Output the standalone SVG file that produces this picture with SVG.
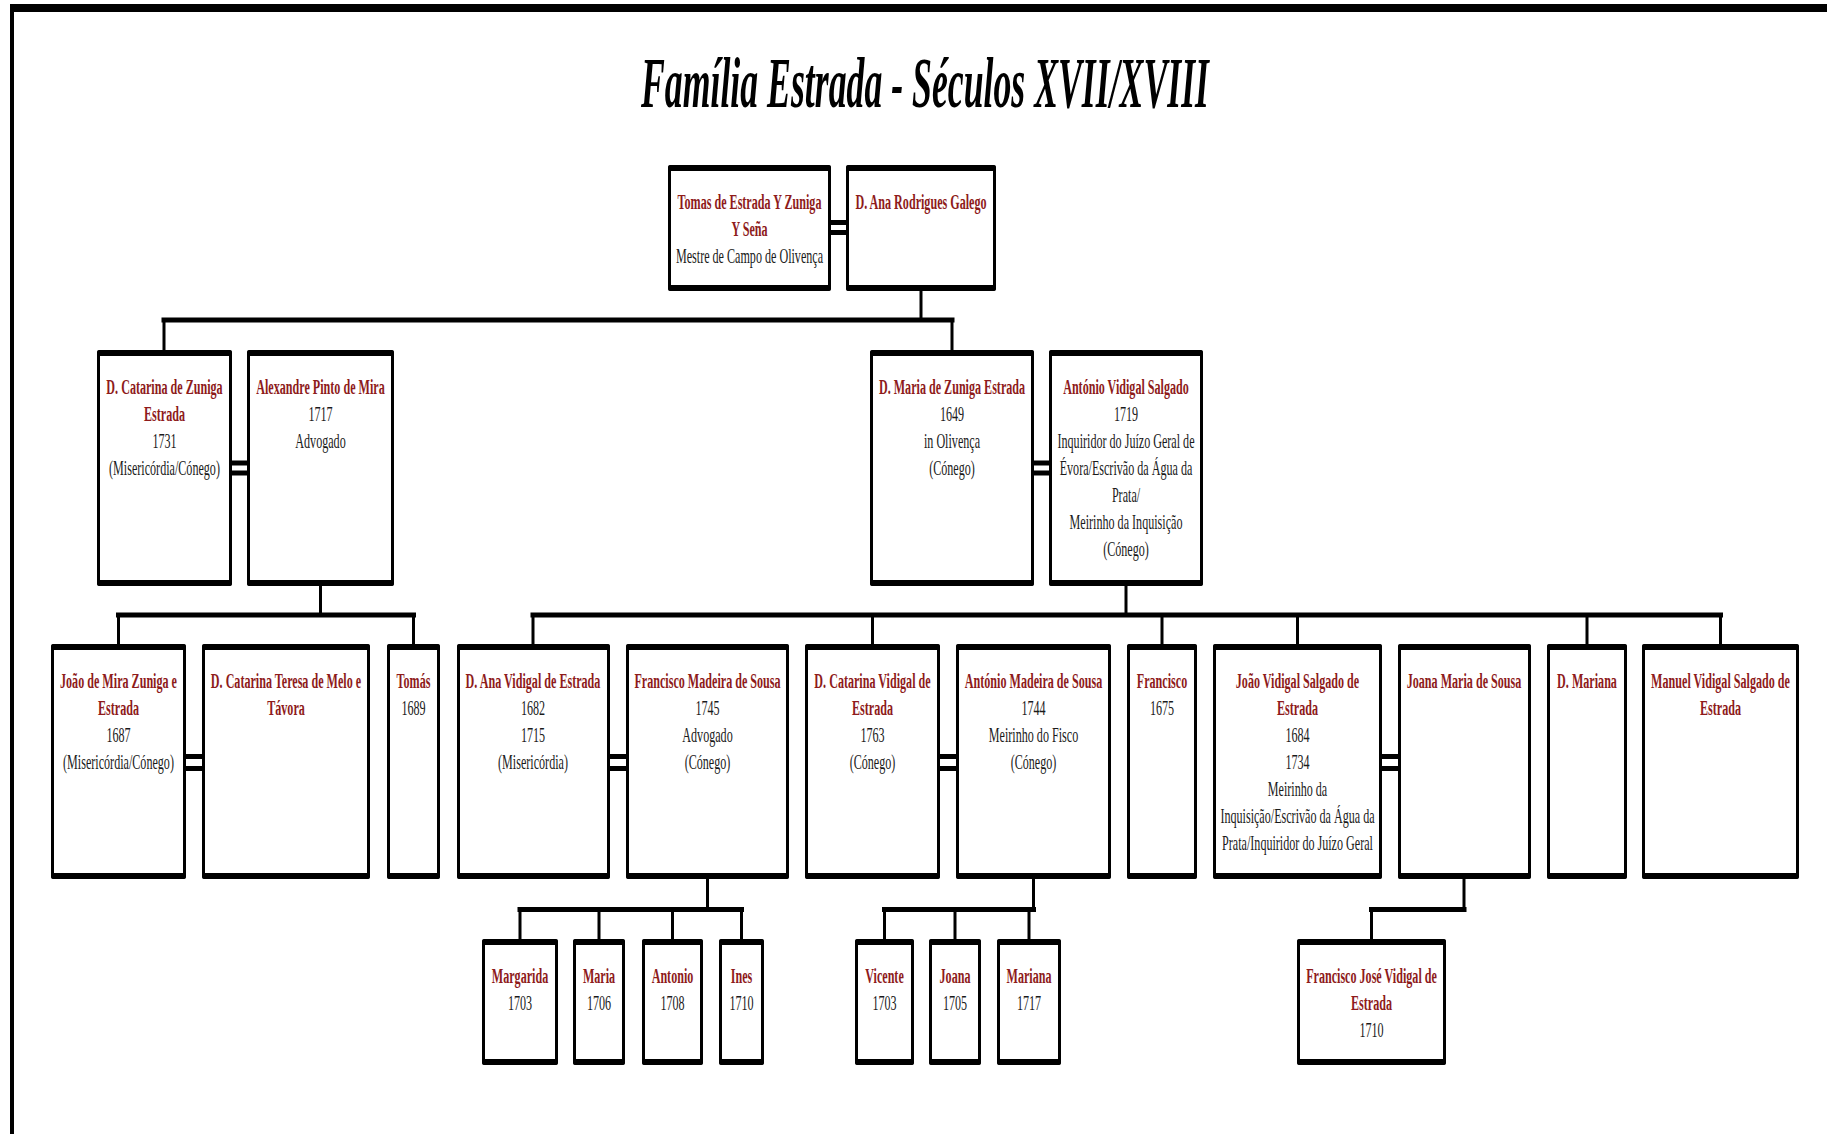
<svg xmlns="http://www.w3.org/2000/svg" width="1827" height="1134" viewBox="0 0 1827 1134">
  <style>
    .frame { fill: #000; }
    .box { fill: #fff; stroke: #000; stroke-width: 3; }
    .edge { fill: #000; }
    .wire { fill: none; stroke: #000; stroke-linecap: square; }
    .v { stroke-width: 3; }
    .h { stroke-width: 5; }
    .wed { fill: #000; }
    text { font-family: "Liberation Serif", "Times New Roman", serif; font-size: 22px; text-anchor: middle; }
    .nm { fill: #8e1b1b; font-weight: bold; }
    .dt { fill: #1a1a1a; }
    .title { font-size: 72px; font-weight: bold; font-style: italic; fill: #000; text-anchor: start; }
  </style>
  <defs>
    <!-- box outline: thin sides, heavy top and bottom edges -->
  </defs>

  <rect width="1827" height="1134" fill="#fff"/>
  <!-- page frame -->
  <rect class="frame" x="10" y="4" width="1817" height="8"/>
  <rect class="frame" x="10" y="4" width="4" height="1130"/>

  <text class="title" x="641" y="107" textLength="568" lengthAdjust="spacingAndGlyphs">Família Estrada - Séculos XVII/XVIII</text>

  <!-- descent lines -->
  <g id="connectors">
    <path class="wire v" d="M921 291V320"/>
    <path class="wire h" d="M164 320H952"/>
    <path class="wire v" d="M164 320V350M952 320V350"/>

    <path class="wire v" d="M320.5 586V615"/>
    <path class="wire h" d="M118.5 615H413.5"/>
    <path class="wire v" d="M118.5 615V644M413.5 615V644"/>

    <path class="wire v" d="M1126 586V615"/>
    <path class="wire h" d="M533 615H1720.5"/>
    <path class="wire v" d="M533 615V644M872.5 615V644M1162 615V644M1297.5 615V644M1587 615V644M1720.5 615V644"/>

    <path class="wire v" d="M707.5 879V909.5"/>
    <path class="wire h" d="M520 909.5H741.5"/>
    <path class="wire v" d="M520 909.5V939M599 909.5V939M672.5 909.5V939M741.5 909.5V939"/>

    <path class="wire v" d="M1033.5 879V909.5"/>
    <path class="wire h" d="M884.5 909.5H1033.5"/>
    <path class="wire v" d="M884.5 909.5V939M955 909.5V939M1029 909.5V939"/>

    <path class="wire v" d="M1464 879V909.5"/>
    <path class="wire h" d="M1464 909.5H1371.5"/>
    <path class="wire v" d="M1371.5 909.5V939"/>

    <!-- marriage links (double bars) -->
    <rect class="wed" x="831" y="220" width="15" height="5"/><rect class="wed" x="831" y="230" width="15" height="5"/>
    <rect class="wed" x="232" y="460.5" width="15" height="5"/><rect class="wed" x="232" y="470.5" width="15" height="5"/>
    <rect class="wed" x="1034" y="460.5" width="15" height="5"/><rect class="wed" x="1034" y="470.5" width="15" height="5"/>
    <rect class="wed" x="186" y="754" width="16" height="5"/><rect class="wed" x="186" y="766" width="16" height="5"/>
    <rect class="wed" x="610" y="754" width="16" height="5"/><rect class="wed" x="610" y="766" width="16" height="5"/>
    <rect class="wed" x="940" y="754" width="16" height="5"/><rect class="wed" x="940" y="766" width="16" height="5"/>
    <rect class="wed" x="1382" y="754" width="16" height="5"/><rect class="wed" x="1382" y="766" width="16" height="5"/>
  </g>

  <!-- generation I -->
  <g id="tomas-estrada">
    <rect class="box" x="669.5" y="166.5" width="160" height="123" rx="2"/>
    <rect class="edge" x="668" y="165" width="163" height="6" rx="2"/><rect class="edge" x="668" y="285" width="163" height="6" rx="2"/>
    <g transform="translate(749.5 0) scale(0.55 1)">
      <text class="nm" y="209">Tomas de Estrada Y Zuniga</text>
      <text class="nm" y="236">Y Seña</text>
      <text class="dt" y="263">Mestre de Campo de Olivença</text>
    </g>
  </g>
  <g id="ana-rodrigues">
    <rect class="box" x="847.5" y="166.5" width="147" height="123" rx="2"/>
    <rect class="edge" x="846" y="165" width="150" height="6" rx="2"/><rect class="edge" x="846" y="285" width="150" height="6" rx="2"/>
    <g transform="translate(921 0) scale(0.55 1)">
      <text class="nm" y="209">D. Ana Rodrigues Galego</text>
    </g>
  </g>

  <!-- generation II -->
  <g id="catarina-zuniga">
    <rect class="box" x="98.5" y="351.5" width="132" height="233" rx="2"/>
    <rect class="edge" x="97" y="350" width="135" height="6" rx="2"/><rect class="edge" x="97" y="580" width="135" height="6" rx="2"/>
    <g transform="translate(164.5 0) scale(0.55 1)">
      <text class="nm" y="394">D. Catarina de Zuniga</text>
      <text class="nm" y="421">Estrada</text>
      <text class="dt" y="448">1731</text>
      <text class="dt" y="475">(Misericórdia/Cónego)</text>
    </g>
  </g>
  <g id="alexandre-mira">
    <rect class="box" x="248.5" y="351.5" width="144" height="233" rx="2"/>
    <rect class="edge" x="247" y="350" width="147" height="6" rx="2"/><rect class="edge" x="247" y="580" width="147" height="6" rx="2"/>
    <g transform="translate(320.5 0) scale(0.55 1)">
      <text class="nm" y="394">Alexandre Pinto de Mira</text>
      <text class="dt" y="421">1717</text>
      <text class="dt" y="448">Advogado</text>
    </g>
  </g>
  <g id="maria-zuniga">
    <rect class="box" x="871.5" y="351.5" width="161" height="233" rx="2"/>
    <rect class="edge" x="870" y="350" width="164" height="6" rx="2"/><rect class="edge" x="870" y="580" width="164" height="6" rx="2"/>
    <g transform="translate(952 0) scale(0.55 1)">
      <text class="nm" y="394">D. Maria de Zuniga Estrada</text>
      <text class="dt" y="421">1649</text>
      <text class="dt" y="448">in Olivença</text>
      <text class="dt" y="475">(Cónego)</text>
    </g>
  </g>
  <g id="antonio-vidigal">
    <rect class="box" x="1050.5" y="351.5" width="151" height="233" rx="2"/>
    <rect class="edge" x="1049" y="350" width="154" height="6" rx="2"/><rect class="edge" x="1049" y="580" width="154" height="6" rx="2"/>
    <g transform="translate(1126 0) scale(0.55 1)">
      <text class="nm" y="394">António Vidigal Salgado</text>
      <text class="dt" y="421">1719</text>
      <text class="dt" y="448">Inquiridor do Juízo Geral de</text>
      <text class="dt" y="475">Évora/Escrivão da Água da</text>
      <text class="dt" y="502">Prata/</text>
      <text class="dt" y="529">Meirinho da Inquisição</text>
      <text class="dt" y="556">(Cónego)</text>
    </g>
  </g>

  <!-- generation III -->
  <g id="joao-mira">
    <rect class="box" x="52.5" y="645.5" width="132" height="232" rx="2"/>
    <rect class="edge" x="51" y="644" width="135" height="6" rx="2"/><rect class="edge" x="51" y="873" width="135" height="6" rx="2"/>
    <g transform="translate(118.5 0) scale(0.55 1)">
      <text class="nm" y="688">João de Mira Zuniga e</text>
      <text class="nm" y="715">Estrada</text>
      <text class="dt" y="742">1687</text>
      <text class="dt" y="769">(Misericórdia/Cónego)</text>
    </g>
  </g>
  <g id="catarina-teresa">
    <rect class="box" x="203.5" y="645.5" width="165" height="232" rx="2"/>
    <rect class="edge" x="202" y="644" width="168" height="6" rx="2"/><rect class="edge" x="202" y="873" width="168" height="6" rx="2"/>
    <g transform="translate(286 0) scale(0.55 1)">
      <text class="nm" y="688">D. Catarina Teresa de Melo e</text>
      <text class="nm" y="715">Távora</text>
    </g>
  </g>
  <g id="tomas-1689">
    <rect class="box" x="388.5" y="645.5" width="50" height="232" rx="2"/>
    <rect class="edge" x="387" y="644" width="53" height="6" rx="2"/><rect class="edge" x="387" y="873" width="53" height="6" rx="2"/>
    <g transform="translate(413.5 0) scale(0.55 1)">
      <text class="nm" y="688">Tomás</text>
      <text class="dt" y="715">1689</text>
    </g>
  </g>
  <g id="ana-vidigal">
    <rect class="box" x="458.5" y="645.5" width="150" height="232" rx="2"/>
    <rect class="edge" x="457" y="644" width="153" height="6" rx="2"/><rect class="edge" x="457" y="873" width="153" height="6" rx="2"/>
    <g transform="translate(533 0) scale(0.55 1)">
      <text class="nm" y="688">D. Ana Vidigal de Estrada</text>
      <text class="dt" y="715">1682</text>
      <text class="dt" y="742">1715</text>
      <text class="dt" y="769">(Misericórdia)</text>
    </g>
  </g>
  <g id="francisco-madeira">
    <rect class="box" x="627.5" y="645.5" width="160" height="232" rx="2"/>
    <rect class="edge" x="626" y="644" width="163" height="6" rx="2"/><rect class="edge" x="626" y="873" width="163" height="6" rx="2"/>
    <g transform="translate(707.5 0) scale(0.55 1)">
      <text class="nm" y="688">Francisco Madeira de Sousa</text>
      <text class="dt" y="715">1745</text>
      <text class="dt" y="742">Advogado</text>
      <text class="dt" y="769">(Cónego)</text>
    </g>
  </g>
  <g id="catarina-vidigal">
    <rect class="box" x="806.5" y="645.5" width="132" height="232" rx="2"/>
    <rect class="edge" x="805" y="644" width="135" height="6" rx="2"/><rect class="edge" x="805" y="873" width="135" height="6" rx="2"/>
    <g transform="translate(872.5 0) scale(0.55 1)">
      <text class="nm" y="688">D. Catarina Vidigal de</text>
      <text class="nm" y="715">Estrada</text>
      <text class="dt" y="742">1763</text>
      <text class="dt" y="769">(Cónego)</text>
    </g>
  </g>
  <g id="antonio-madeira">
    <rect class="box" x="957.5" y="645.5" width="152" height="232" rx="2"/>
    <rect class="edge" x="956" y="644" width="155" height="6" rx="2"/><rect class="edge" x="956" y="873" width="155" height="6" rx="2"/>
    <g transform="translate(1033.5 0) scale(0.55 1)">
      <text class="nm" y="688">António Madeira de Sousa</text>
      <text class="dt" y="715">1744</text>
      <text class="dt" y="742">Meirinho do Fisco</text>
      <text class="dt" y="769">(Cónego)</text>
    </g>
  </g>
  <g id="francisco-1675">
    <rect class="box" x="1128.5" y="645.5" width="67" height="232" rx="2"/>
    <rect class="edge" x="1127" y="644" width="70" height="6" rx="2"/><rect class="edge" x="1127" y="873" width="70" height="6" rx="2"/>
    <g transform="translate(1162 0) scale(0.55 1)">
      <text class="nm" y="688">Francisco</text>
      <text class="dt" y="715">1675</text>
    </g>
  </g>
  <g id="joao-vidigal">
    <rect class="box" x="1214.5" y="645.5" width="166" height="232" rx="2"/>
    <rect class="edge" x="1213" y="644" width="169" height="6" rx="2"/><rect class="edge" x="1213" y="873" width="169" height="6" rx="2"/>
    <g transform="translate(1297.5 0) scale(0.55 1)">
      <text class="nm" y="688">João Vidigal Salgado de</text>
      <text class="nm" y="715">Estrada</text>
      <text class="dt" y="742">1684</text>
      <text class="dt" y="769">1734</text>
      <text class="dt" y="796">Meirinho da</text>
      <text class="dt" y="823">Inquisição/Escrivão da Água da</text>
      <text class="dt" y="850">Prata/Inquiridor do Juízo Geral</text>
    </g>
  </g>
  <g id="joana-maria">
    <rect class="box" x="1399.5" y="645.5" width="130" height="232" rx="2"/>
    <rect class="edge" x="1398" y="644" width="133" height="6" rx="2"/><rect class="edge" x="1398" y="873" width="133" height="6" rx="2"/>
    <g transform="translate(1464 0) scale(0.55 1)">
      <text class="nm" y="688">Joana Maria de Sousa</text>
    </g>
  </g>
  <g id="mariana-d">
    <rect class="box" x="1548.5" y="645.5" width="77" height="232" rx="2"/>
    <rect class="edge" x="1547" y="644" width="80" height="6" rx="2"/><rect class="edge" x="1547" y="873" width="80" height="6" rx="2"/>
    <g transform="translate(1587 0) scale(0.55 1)">
      <text class="nm" y="688">D. Mariana</text>
    </g>
  </g>
  <g id="manuel-vidigal">
    <rect class="box" x="1643.5" y="645.5" width="154" height="232" rx="2"/>
    <rect class="edge" x="1642" y="644" width="157" height="6" rx="2"/><rect class="edge" x="1642" y="873" width="157" height="6" rx="2"/>
    <g transform="translate(1720.5 0) scale(0.55 1)">
      <text class="nm" y="688">Manuel Vidigal Salgado de</text>
      <text class="nm" y="715">Estrada</text>
    </g>
  </g>

  <!-- generation IV -->
  <g id="margarida">
    <rect class="box" x="483.5" y="940.5" width="73" height="123" rx="2"/>
    <rect class="edge" x="482" y="939" width="76" height="6" rx="2"/><rect class="edge" x="482" y="1059" width="76" height="6" rx="2"/>
    <g transform="translate(520 0) scale(0.55 1)">
      <text class="nm" y="983">Margarida</text>
      <text class="dt" y="1010">1703</text>
    </g>
  </g>
  <g id="maria">
    <rect class="box" x="574.5" y="940.5" width="49" height="123" rx="2"/>
    <rect class="edge" x="573" y="939" width="52" height="6" rx="2"/><rect class="edge" x="573" y="1059" width="52" height="6" rx="2"/>
    <g transform="translate(599 0) scale(0.55 1)">
      <text class="nm" y="983">Maria</text>
      <text class="dt" y="1010">1706</text>
    </g>
  </g>
  <g id="antonio">
    <rect class="box" x="643.5" y="940.5" width="58" height="123" rx="2"/>
    <rect class="edge" x="642" y="939" width="61" height="6" rx="2"/><rect class="edge" x="642" y="1059" width="61" height="6" rx="2"/>
    <g transform="translate(672.5 0) scale(0.55 1)">
      <text class="nm" y="983">Antonio</text>
      <text class="dt" y="1010">1708</text>
    </g>
  </g>
  <g id="ines">
    <rect class="box" x="720.5" y="940.5" width="42" height="123" rx="2"/>
    <rect class="edge" x="719" y="939" width="45" height="6" rx="2"/><rect class="edge" x="719" y="1059" width="45" height="6" rx="2"/>
    <g transform="translate(741.5 0) scale(0.55 1)">
      <text class="nm" y="983">Ines</text>
      <text class="dt" y="1010">1710</text>
    </g>
  </g>
  <g id="vicente">
    <rect class="box" x="856.5" y="940.5" width="56" height="123" rx="2"/>
    <rect class="edge" x="855" y="939" width="59" height="6" rx="2"/><rect class="edge" x="855" y="1059" width="59" height="6" rx="2"/>
    <g transform="translate(884.5 0) scale(0.55 1)">
      <text class="nm" y="983">Vicente</text>
      <text class="dt" y="1010">1703</text>
    </g>
  </g>
  <g id="joana">
    <rect class="box" x="930.5" y="940.5" width="49" height="123" rx="2"/>
    <rect class="edge" x="929" y="939" width="52" height="6" rx="2"/><rect class="edge" x="929" y="1059" width="52" height="6" rx="2"/>
    <g transform="translate(955 0) scale(0.55 1)">
      <text class="nm" y="983">Joana</text>
      <text class="dt" y="1010">1705</text>
    </g>
  </g>
  <g id="mariana">
    <rect class="box" x="998.5" y="940.5" width="61" height="123" rx="2"/>
    <rect class="edge" x="997" y="939" width="64" height="6" rx="2"/><rect class="edge" x="997" y="1059" width="64" height="6" rx="2"/>
    <g transform="translate(1029 0) scale(0.55 1)">
      <text class="nm" y="983">Mariana</text>
      <text class="dt" y="1010">1717</text>
    </g>
  </g>
  <g id="francisco-jose">
    <rect class="box" x="1298.5" y="940.5" width="146" height="123" rx="2"/>
    <rect class="edge" x="1297" y="939" width="149" height="6" rx="2"/><rect class="edge" x="1297" y="1059" width="149" height="6" rx="2"/>
    <g transform="translate(1371.5 0) scale(0.55 1)">
      <text class="nm" y="983">Francisco José Vidigal de</text>
      <text class="nm" y="1010">Estrada</text>
      <text class="dt" y="1037">1710</text>
    </g>
  </g>
</svg>
